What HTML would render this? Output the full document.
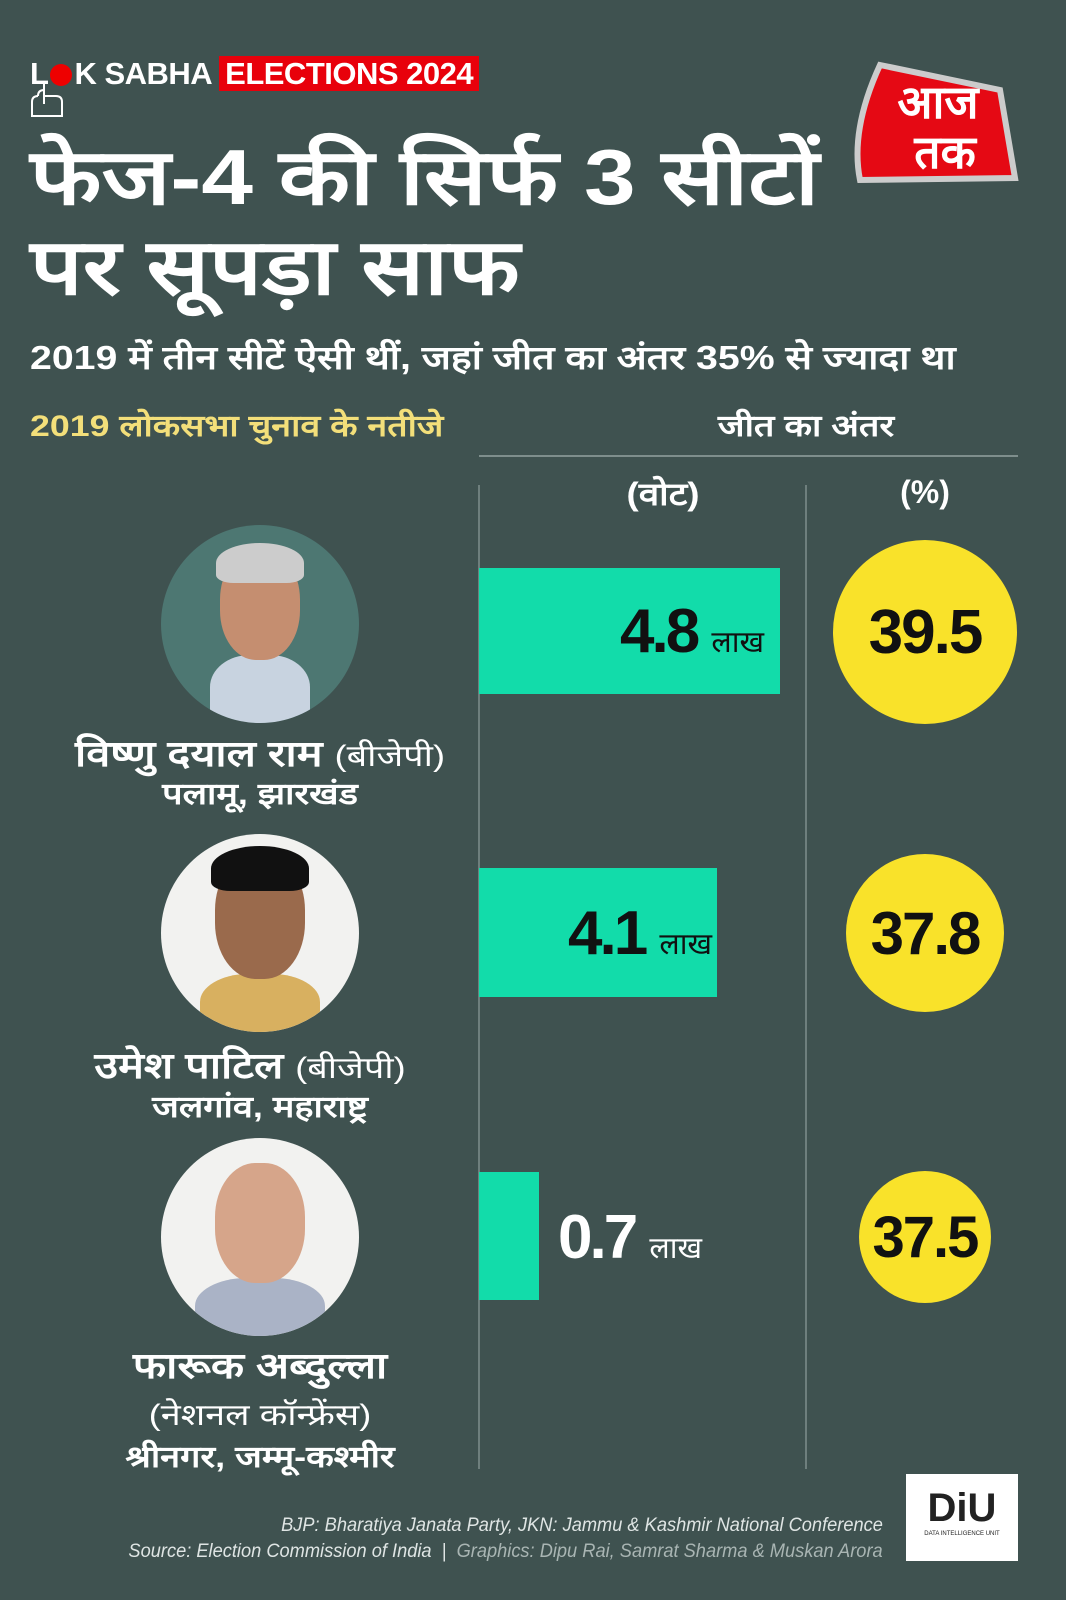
<!DOCTYPE html>
<html><head><meta charset="utf-8"><style>
*{margin:0;padding:0;box-sizing:border-box}
body{width:1066px;height:1600px;background:#3f5250;position:relative;overflow:hidden;font-family:"Liberation Sans","Noto Sans CJK SC",sans-serif;color:#fff}
.a{position:absolute;white-space:nowrap}
.dev{font-family:"Liberation Sans","Noto Sans CJK SC","WenQuanYi Zen Hei",sans-serif}
.sx{transform:scaleX(1.19);transform-origin:0 0}
.bar{position:absolute;background:#12dcaa}
.cir{position:absolute;border-radius:50%;background:#f9e22a;color:#111;font-weight:bold;display:flex;align-items:center;justify-content:center;font-family:"Liberation Sans Narrow","Liberation Sans",sans-serif;letter-spacing:-2px}
.ph{position:absolute;width:198px;height:198px;border-radius:50%;overflow:hidden}
.vl{position:absolute;top:485px;width:2px;height:984px;background:#6e7f7d}
.val{position:absolute;color:#111;font-weight:bold;font-family:"Liberation Sans Narrow","Liberation Sans",sans-serif;font-size:62px;letter-spacing:-3px}
.lk{font-size:30px;font-weight:normal;letter-spacing:0}
.nm{position:absolute;left:0;width:520px;text-align:center;transform:scaleX(1.2);transform-origin:260px 0}
</style></head><body>
<div class="a" style="left:30px;top:56px;font-size:31px;font-weight:bold;letter-spacing:-0.5px">L<span style="display:inline-block;width:22px;height:22px;border-radius:50%;background:#e00;vertical-align:-2px;margin:0 2px"></span>K SABHA <span style="background:#e8000b;padding:0 6px">ELECTIONS 2024</span></div>
<svg class="a" style="left:30px;top:80px" width="44" height="42"><path d="M14 4 v20 M14 10 q-6 0-6 6 M8 16 q-6 0-6 6 v14 h30 v-14 q0-6-6-6 q0 0-12 0" stroke="#fff" stroke-width="2" fill="none"/></svg>
<svg class="a" style="left:850px;top:60px" width="170" height="130"><path d="M30 5 L150 30 L165 118 L10 120 Q0 70 30 5Z" fill="#e50914" stroke="#ccc" stroke-width="6"/><text x="88" y="58" font-size="46" fill="#fff" text-anchor="middle" font-family="Noto Sans CJK SC,sans-serif" font-weight="bold">आज</text><text x="95" y="108" font-size="46" fill="#fff" text-anchor="middle" font-family="Noto Sans CJK SC,sans-serif" font-weight="bold">तक</text></svg>
<div class="a dev sx" style="left:30px;top:132px;font-size:78px;font-weight:bold;line-height:90px">फेज-4 की सिर्फ 3 सीटों<br>पर सूपड़ा साफ</div>
<div class="a dev sx" style="left:30px;top:334px;font-size:33px;font-weight:bold">2019 में तीन सीटें ऐसी थीं, जहां जीत का अंतर 35% से ज्यादा था</div>
<div class="a dev sx" style="left:30px;top:404px;font-size:30px;font-weight:bold;color:#f3df7a">2019 लोकसभा चुनाव के नतीजे</div>
<div class="a dev" style="left:706px;top:404px;width:200px;text-align:center;font-size:30px;font-weight:bold;transform:scaleX(1.2)">जीत का अंतर</div>
<div style="position:absolute;left:479px;top:455px;width:539px;height:2px;background:#7e8e8c"></div>
<div class="vl" style="left:478px"></div><div class="vl" style="left:805px"></div>
<div class="a dev" style="left:563px;top:472px;width:200px;text-align:center;font-size:32px;font-weight:bold;transform:scaleX(1.15)">(वोट)</div>
<div class="a" style="left:825px;top:474px;width:200px;text-align:center;font-size:32px;font-weight:bold">(%)</div>

<div class="bar" style="left:479px;top:568px;width:301px;height:126px"></div>
<div class="val" style="left:620px;top:596px">4.8 <span class="lk dev">लाख</span></div>
<div class="bar" style="left:479px;top:868px;width:238px;height:129px"></div>
<div class="val" style="left:568px;top:898px">4.1 <span class="lk dev">लाख</span></div>
<div class="bar" style="left:479px;top:1172px;width:60px;height:128px"></div>
<div class="val" style="left:558px;top:1202px;color:#fff">0.7 <span class="lk dev">लाख</span></div>

<div class="cir" style="left:833px;top:540px;width:184px;height:184px;font-size:62px">39.5</div>
<div class="cir" style="left:846px;top:854px;width:158px;height:158px;font-size:60px">37.8</div>
<div class="cir" style="left:859px;top:1171px;width:132px;height:132px;font-size:58px">37.5</div>

<div class="ph" style="left:161px;top:525px;background:#4d7772"><div style="position:absolute;left:49px;top:130px;width:100px;height:80px;border-radius:40% 40% 0 0;background:#c8d3e0"></div><div style="position:absolute;left:59px;top:25px;width:80px;height:110px;border-radius:45%;background:#c58e70"></div><div style="position:absolute;left:55px;top:18px;width:88px;height:40px;border-radius:50% 50% 20% 20%;background:#ccc"></div></div>
<div class="ph" style="left:161px;top:834px;background:#f2f2f0"><div style="position:absolute;left:39px;top:140px;width:120px;height:70px;border-radius:40% 40% 0 0;background:#d8b060"></div><div style="position:absolute;left:54px;top:20px;width:90px;height:125px;border-radius:45%;background:#9a6a4c"></div><div style="position:absolute;left:50px;top:12px;width:98px;height:45px;border-radius:50% 50% 20% 20%;background:#111"></div></div>
<div class="ph" style="left:161px;top:1138px;background:#f2f2f0"><div style="position:absolute;left:34px;top:140px;width:130px;height:70px;border-radius:40% 40% 0 0;background:#aab3c6"></div><div style="position:absolute;left:54px;top:25px;width:90px;height:120px;border-radius:45%;background:#d6a58a"></div></div>

<div class="nm dev" style="top:728px;font-size:36px;font-weight:bold">विष्णु दयाल राम <span style="font-weight:normal;font-size:30px">(बीजेपी)</span></div>
<div class="nm dev" style="top:772px;font-size:30px;font-weight:bold">पलामू, झारखंड</div>
<div class="nm dev" style="top:1040px;font-size:36px;font-weight:bold;left:-10px">उमेश पाटिल <span style="font-weight:normal;font-size:30px">(बीजेपी)</span></div>
<div class="nm dev" style="top:1085px;font-size:30px;font-weight:bold">जलगांव, महाराष्ट्र</div>
<div class="nm dev" style="top:1340px;font-size:36px;font-weight:bold">फारूक अब्दुल्ला</div>
<div class="nm dev" style="top:1393px;font-size:30px">(नेशनल कॉन्फ्रेंस)</div>
<div class="nm dev" style="top:1435px;font-size:30px;font-weight:bold">श्रीनगर, जम्मू-कश्मीर</div>

<div class="a" style="right:183px;top:1515px;font-size:19px;font-style:italic;color:#dfe5e4;transform:scaleX(0.96);transform-origin:100% 0">BJP: Bharatiya Janata Party, JKN: Jammu &amp; Kashmir National Conference</div>
<div class="a" style="right:183px;top:1541px;font-size:19px;font-style:italic;color:#dfe5e4;transform:scaleX(0.96);transform-origin:100% 0">Source: Election Commission of India &nbsp;| &nbsp;<span style="color:#a9b5b3">Graphics: Dipu Rai, Samrat Sharma &amp; Muskan Arora</span></div>
<div style="position:absolute;left:906px;top:1474px;width:112px;height:87px;background:#fff;color:#222;text-align:center"><div style="font-size:40px;font-weight:bold;margin-top:12px">DiU</div><div style="font-size:6px">DATA INTELLIGENCE UNIT</div></div>
</body></html>
